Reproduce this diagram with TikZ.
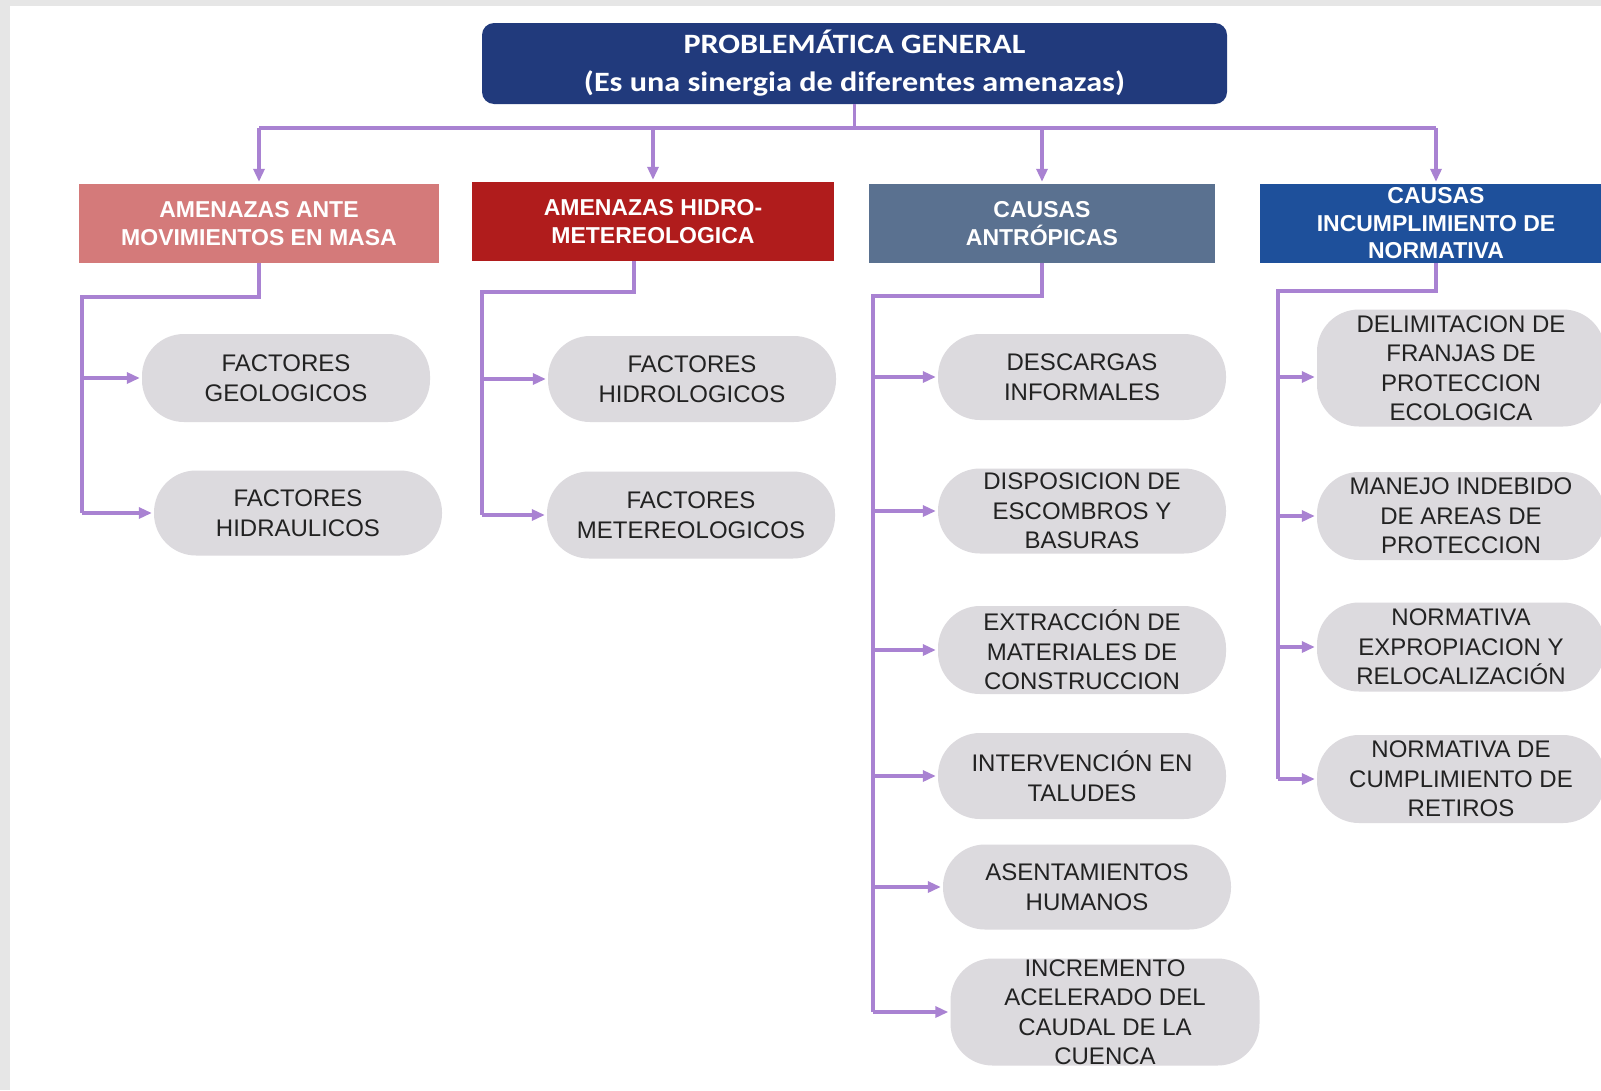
\documentclass[tikz,border=0pt]{standalone}
\usepackage{fontspec}
\setmainfont{Liberation Sans}
\newfontfamily\titlefont[FakeStretch=1.15]{Carlito}
\usetikzlibrary{arrows.meta}
\definecolor{topblue}{HTML}{213A7C}
\definecolor{hdrsalmon}{HTML}{D47A7A}
\definecolor{hdrred}{HTML}{B01C1C}
\definecolor{hdrslate}{HTML}{5A7190}
\definecolor{hdrblue}{HTML}{1E509B}
\definecolor{pillgray}{HTML}{DCDADE}
\definecolor{pilltext}{HTML}{222222}
\definecolor{linkpurple}{HTML}{A982D2}
\definecolor{bordergray}{HTML}{E6E6E6}
\begin{document}
\begin{tikzpicture}[x=1pt,y=-1pt]
	\def \busrow{128}
	\def \hdrrow{223.5}
	\tikzstyle{top-node}=[rectangle,rounded corners=12pt,fill=topblue,text=white,inner sep=0pt,minimum width=745pt,minimum height=81pt,align=center,font=\titlefont\bfseries\fontsize{28}{38}\selectfont]
	\tikzstyle{h-node}=[rectangle,text=white,inner sep=0pt,minimum height=79pt,align=center,font=\bfseries\fontsize{23}{27.5}\selectfont]
	\tikzstyle{p-node}=[rectangle,rounded corners=42pt,fill=pillgray,text=pilltext,inner sep=0pt,minimum width=288pt,align=center,font=\fontsize{24}{29.5}\selectfont]
	\tikzstyle{link}=[color=linkpurple,line width=3.2pt]
	\tikzstyle{arr}=[link,-{Triangle[length=13pt,width=11pt]},shorten >=2pt]
	% frame
	\useasboundingbox (0,0) rectangle (1601,1090);
	\fill[bordergray] (0,0) rectangle (1601,1090);
	\fill[white] (10,6) rectangle (1601,1090);

	% title
	\node[top-node] 	(top)	at (854.5,63.5)	{PROBLEMÁTICA GENERAL\\(Es una sinergia de diferentes amenazas)};
	\coordinate (bus) at (854.5,\busrow);

	% headers
	\node[h-node,fill=hdrsalmon,minimum width=360pt]	(h1)	at (259,\hdrrow)	{AMENAZAS ANTE\\MOVIMIENTOS EN MASA};
	\node[h-node,fill=hdrred,minimum width=362pt]		(h2)	at (653,221.5)		{AMENAZAS HIDRO-\\METEREOLOGICA};
	\node[h-node,fill=hdrslate,minimum width=346pt]		(h3)	at (1042,\hdrrow)	{CAUSAS\\ANTRÓPICAS};
	\node[h-node,fill=hdrblue,minimum width=352pt]		(h4)	at (1436,\hdrrow)	{CAUSAS\\INCUMPLIMIENTO DE\\NORMATIVA};

	% amenazas ante movimientos en masa
	\node[p-node,minimum height=88pt]	(p11)	at (286,378)	{FACTORES\\GEOLOGICOS};
	\node[p-node,minimum height=85pt]	(p12)	at (298,513)	{FACTORES\\HIDRAULICOS};

	% amenazas hidro-metereologica
	\node[p-node,minimum height=86pt]	(p21)	at (692,379)	{FACTORES\\HIDROLOGICOS};
	\node[p-node,minimum height=87pt]	(p22)	at (691,515)	{FACTORES\\METEREOLOGICOS};

	% causas antropicas
	\node[p-node,minimum height=86pt]	(p31)	at (1082,377)	{DESCARGAS\\INFORMALES};
	\node[p-node,minimum height=85pt]	(p32)	at (1082,511)	{DISPOSICION DE\\ESCOMBROS Y\\BASURAS};
	\node[p-node,minimum height=88pt]	(p33)	at (1082,650)	{EXTRACCIÓN DE\\MATERIALES DE\\CONSTRUCCION};
	\node[p-node,minimum height=86pt]	(p34)	at (1082,776)	{INTERVENCIÓN EN\\TALUDES};
	\node[p-node,minimum height=85pt]	(p35)	at (1087,887)	{ASENTAMIENTOS\\HUMANOS};
	\node[p-node,minimum width=309pt,minimum height=107pt]	(p36)	at (1105,1012)	{INCREMENTO\\ACELERADO DEL\\CAUDAL DE LA\\CUENCA};

	% causas incumplimiento de normativa
	\node[p-node,minimum height=117pt]	(p41)	at (1461,368)	{DELIMITACION DE\\FRANJAS DE\\PROTECCION\\ECOLOGICA};
	\node[p-node,minimum height=88pt]	(p42)	at (1461,516)	{MANEJO INDEBIDO\\DE AREAS DE\\PROTECCION};
	\node[p-node,minimum height=89pt]	(p43)	at (1461,647)	{NORMATIVA\\EXPROPIACION Y\\RELOCALIZACIÓN};
	\node[p-node,minimum height=88pt]	(p44)	at (1461,779)	{NORMATIVA DE\\CUMPLIMIENTO DE\\RETIROS};

	% trunk points
	\coordinate (t1) at (82,297);
	\coordinate (b2) at (634,292);
	\coordinate (t2) at (482,292);
	\coordinate (t3) at (873,296);
	\coordinate (t4) at (1278,291);
	\coordinate (a41) at ([yshift=-9pt]p41.west);

	% bus
	\draw[link] (top.south) -- (bus);
	\draw[link] (h1.north |- bus) -- (h4.north |- bus);
	\path[arr]
		(h1.north |- bus)	edge	(h1)
		(h2.north |- bus)	edge	(h2)
		(h3.north |- bus)	edge	(h3)
		(h4.north |- bus)	edge	(h4);

	% trunks
	\draw[link] (h1.south) |- (t1) -- (t1 |- p12);
	\draw[link] (h2.south -| b2) -- (b2) -- (t2) -- (t2 |- p22);
	\draw[link] (h3.south) |- (t3) -- (t3 |- p36);
	\draw[link] (h4.south) |- (t4) -- (t4 |- p44);

	\path[arr]
		(t1 |- p11)	edge	(p11)
		(t1 |- p12)	edge	(p12)
		%
		(t2 |- p21)	edge	(p21)
		(t2 |- p22)	edge	(p22)
		%
		(t3 |- p31)	edge	(p31)
		(t3 |- p32)	edge	(p32)
		(t3 |- p33)	edge	(p33)
		(t3 |- p34)	edge	(p34)
		(t3 |- p35)	edge	(p35)
		(t3 |- p36)	edge	(p36)
		%
		(t4 |- a41)	edge	(a41)
		(t4 |- p42)	edge	(p42)
		(t4 |- p43)	edge	(p43)
		(t4 |- p44)	edge	(p44);
\end{tikzpicture}
\end{document}
